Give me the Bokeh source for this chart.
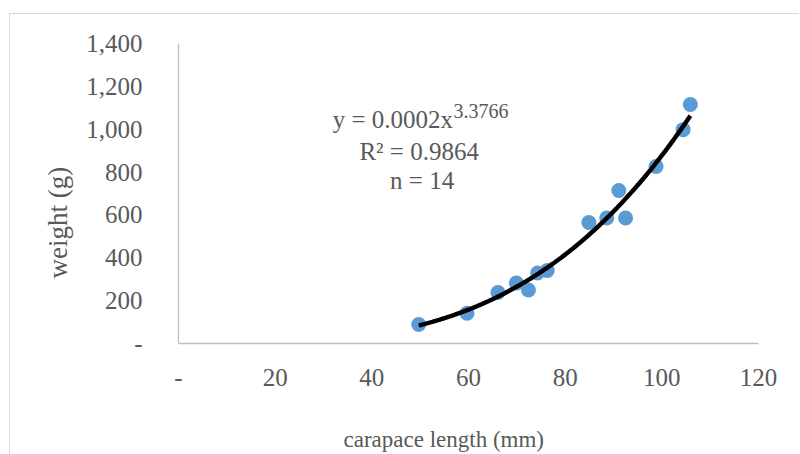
import numpy as np
from bokeh.plotting import figure
from bokeh.models import Label, FixedTicker, Range1d, Title
from bokeh.embed import file_html
from bokeh.resources import INLINE

# carapace length (mm) and body weight (g) of the 14 measured animals
carapace_length = [49.7, 59.7, 66.1, 69.9, 72.4, 74.3, 76.3, 84.9, 88.6, 91.1, 92.5, 98.8, 104.4, 105.9]
weight = [89, 141, 238, 282, 250, 329, 341, 565, 586, 714, 586, 826, 998, 1115]

x_ticks = [0, 20, 40, 60, 80, 100, 120]
x_tick_labels = ["-", "20", "40", "60", "80", "100", "120"]
y_ticks = [0, 200, 400, 600, 800, 1000, 1200, 1400]
y_tick_labels = ["-", "200", "400", "600", "800", "1,000", "1,200", "1,400"]

equation_text = "y = 0.0002x"
exponent_text = "3.3766"
r2_text = "R\u00b2 = 0.9864"
n_text = "n = 14"

FONT = "Liberation Serif"
GREY = "#595959"
AXIS_GREY = "#bfbfbf"

# the canvas runs a little past the bottom edge of the page; the negative
# bottom margin keeps the page itself at the window height
p = figure(width=790, height=480, output_backend="svg", toolbar_location=None,
           x_range=Range1d(0, 120), y_range=Range1d(0, 1400),
           min_border_left=168, min_border_right=42, min_border_top=29, min_border_bottom=151)
p.styles = {"margin-left": "9px", "margin-top": "13px", "margin-bottom": "-40px",
            "border-left": "1px solid #d9d9d9", "border-top": "1px solid #d9d9d9"}
p.outline_line_color = None
p.grid.visible = False
p.background_fill_color = "white"
p.border_fill_color = "white"

for ax in (p.xaxis[0], p.yaxis[0]):
    ax.axis_line_color = AXIS_GREY
    ax.axis_line_width = 1.3
    ax.major_tick_line_color = None
    ax.minor_tick_line_color = None
    ax.major_label_text_font = FONT
    ax.major_label_text_font_size = "25px"
    ax.major_label_text_color = GREY

p.xaxis[0].ticker = FixedTicker(ticks=x_ticks)
p.xaxis[0].major_label_overrides = dict(zip(x_ticks, x_tick_labels))
p.xaxis[0].major_label_standoff = 19
p.yaxis[0].ticker = FixedTicker(ticks=y_ticks)
p.yaxis[0].major_label_overrides = dict(zip(y_ticks, y_tick_labels))
p.yaxis[0].major_label_standoff = 30

# power-law trend line fitted in log space, drawn over the observed length span
lx = np.log(np.array(carapace_length))
ly = np.log(np.array(weight))
b, log_a = np.polyfit(lx, ly, 1)
xs = np.linspace(min(carapace_length), max(carapace_length), 200)
ys = np.exp(log_a) * xs ** b

p.scatter(carapace_length, weight, size=15, fill_color="#5b9bd5", line_color=None)
p.line(xs, ys, line_color="black", line_width=4.5)

def add_text(text, x, y, size, align="center"):
    p.add_layout(Label(x=x, y=y, text=text, text_font=FONT, text_font_size=size,
                       text_color=GREY, text_align=align, text_baseline="alphabetic"))

add_text(equation_text, 56.8, 1045, "25px", align="right")
add_text(exponent_text, 56.9, 1084, "20px", align="left")
add_text(r2_text, 49.8, 896, "25px")
add_text(n_text, 50.4, 760, "25px")

# axis titles
def add_title(text, side, offset, standoff, size):
    p.add_layout(Title(text=text, align="left", offset=offset, standoff=standoff,
                       text_font=FONT, text_font_size=size, text_font_style="normal",
                       text_color=GREY), side)

add_title("carapace length (mm)", "below", 165, 72, "23px")
add_title("weight (g)", "left", 65, 21, "27px")

open("out.html", "w").write(file_html(p, INLINE))
